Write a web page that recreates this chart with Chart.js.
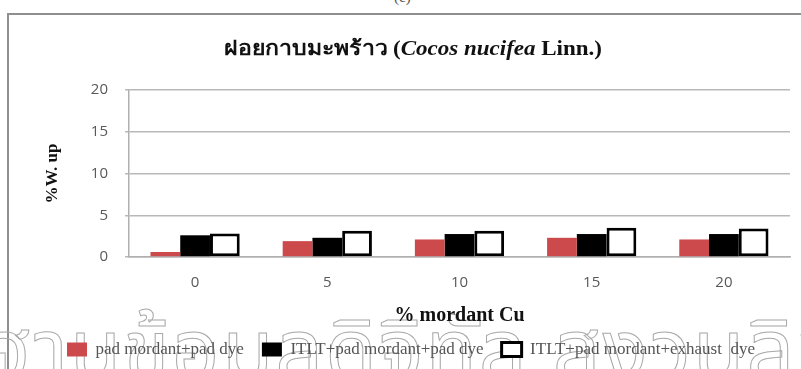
<!DOCTYPE html>
<html>
<head>
<meta charset="utf-8">
<script src="https://cdn.jsdelivr.net/npm/chart.js@4.4.1/dist/chart.umd.min.js"></script>
<style>
html,body{margin:0;padding:0;background:#fff;overflow:hidden}
#marco{position:absolute;left:7px;top:13px;width:820px;height:400px;border:2px solid #8f8f8f;box-sizing:border-box}
#marca{position:absolute;left:-14px;top:290px;white-space:nowrap;font:84px "Noto Sans Thai","Loma","Garuda",sans-serif;color:transparent;-webkit-text-stroke:1px #a8a8a8;letter-spacing:2px}
#rotulo{position:absolute;left:394px;top:-11px;font:15px "Liberation Serif",serif;color:#555}
#caja{position:absolute;left:0;top:0;width:801px;height:369px}
</style>
</head>
<body>
<div id="marco"></div>
<div id="marca">ฐานข้อมูลดิจิทัล สงวนลิขสิทธิ์</div>
<div id="rotulo">(c)</div>
<div id="caja"><canvas id="chart"></canvas></div>
<script>
const categorias=['0','5','10','15','20']
const padMordantPadDye=[0.6,1.9,2.1,2.3,2.1]
const itltPadDye=[2.6,2.3,2.75,2.75,2.75]
const itltExhaustDye=[2.8,3.15,3.15,3.5,3.4]
const nombresSeries=['pad mordant+pad dye','ITLT+pad mordant+pad dye','ITLT+pad mordant+exhaust  dye']
const tituloPartes=[
    {texto:'ฝอยกาบมะพร้าว ',estilo:'bold'},
    {texto:'(',estilo:'bold'},
    {texto:'Cocos nucifea',estilo:'italic bold'},
    {texto:' Linn.)',estilo:'bold'}
]

const serif='"Liberation Serif", "Times New Roman", serif'

// titulo con partes en cursiva, dibujado a mano y algo estirado a lo ancho
const tituloMixto={
    id:'tituloMixto',
    afterDraw(chart){
        const ctx=chart.ctx
        const estirar=1.15
        ctx.save()
        ctx.fillStyle='#111'
        ctx.textBaseline='middle'
        let total=0
        tituloPartes.forEach(p=>{
            ctx.font=`${p.estilo} 20px ${serif}`
            total+=ctx.measureText(p.texto).width
        })
        ctx.translate(413-total*estirar/2,50)
        ctx.scale(estirar,1)
        let x=0
        tituloPartes.forEach(p=>{
            ctx.font=`${p.estilo} 20px ${serif}`
            ctx.fillText(p.texto,x,0)
            x+=ctx.measureText(p.texto).width
        })
        ctx.restore()
    }
}

const ctx=document.getElementById('chart')
new Chart(ctx,{
    type:'bar',
    data:{
        labels:categorias,
        datasets:[{
            label:nombresSeries[0],
            data:padMordantPadDye,
            backgroundColor:'#cc4a4c',
            borderWidth:0
        },{
            label:nombresSeries[1],
            data:itltPadDye,
            backgroundColor:'#000000',
            borderWidth:0
        },{
            label:nombresSeries[2],
            data:itltExhaustDye,
            backgroundColor:'#ffffff',
            borderColor:'#000000',
            borderWidth:3,
            borderSkipped:false
        }]
    },
    plugins:[tituloMixto],
    options:{
        responsive:true,
        maintainAspectRatio:false,
        animation:false,
        datasets:{bar:{barPercentage:1,categoryPercentage:0.675}},
        layout:{padding:{top:90,right:11,bottom:1,left:32}},
        plugins:{
            title:{display:false},
            tooltip:{enabled:false},
            legend:{
                position:'bottom',
                labels:{
                    boxWidth:20,
                    boxHeight:14,
                    padding:18,
                    color:'#555',
                    font:{family:serif,size:17}
                }
            }
        },
        scales:{
            x:{
                grid:{display:false,drawTicks:false},
                border:{display:true,color:'#b0b0b0',width:1.5},
                ticks:{color:'#595959',padding:17,font:{family:'"Open Sans", sans-serif',size:15}},
                title:{display:true,text:'% mordant Cu',color:'#111',padding:{top:0,bottom:-5},font:{family:serif,size:20,weight:'bold'}},
                afterFit(scale){scale.height=66}
            },
            y:{
                min:0,
                max:20,
                ticks:{stepSize:5,color:'#595959',padding:17,font:{family:'"Open Sans", sans-serif',size:15}},
                grid:{color:'#b8b8b8',lineWidth:1.5,drawTicks:true,tickLength:4},
                border:{display:true,color:'#b0b0b0',width:1.5},
                title:{display:true,text:'%W. up',color:'#111',padding:{top:10,bottom:0},font:{family:serif,size:17,weight:'bold'}},
                afterFit(scale){scale.width=97}
            }
        }
    }
})
</script>
</body>
</html>
